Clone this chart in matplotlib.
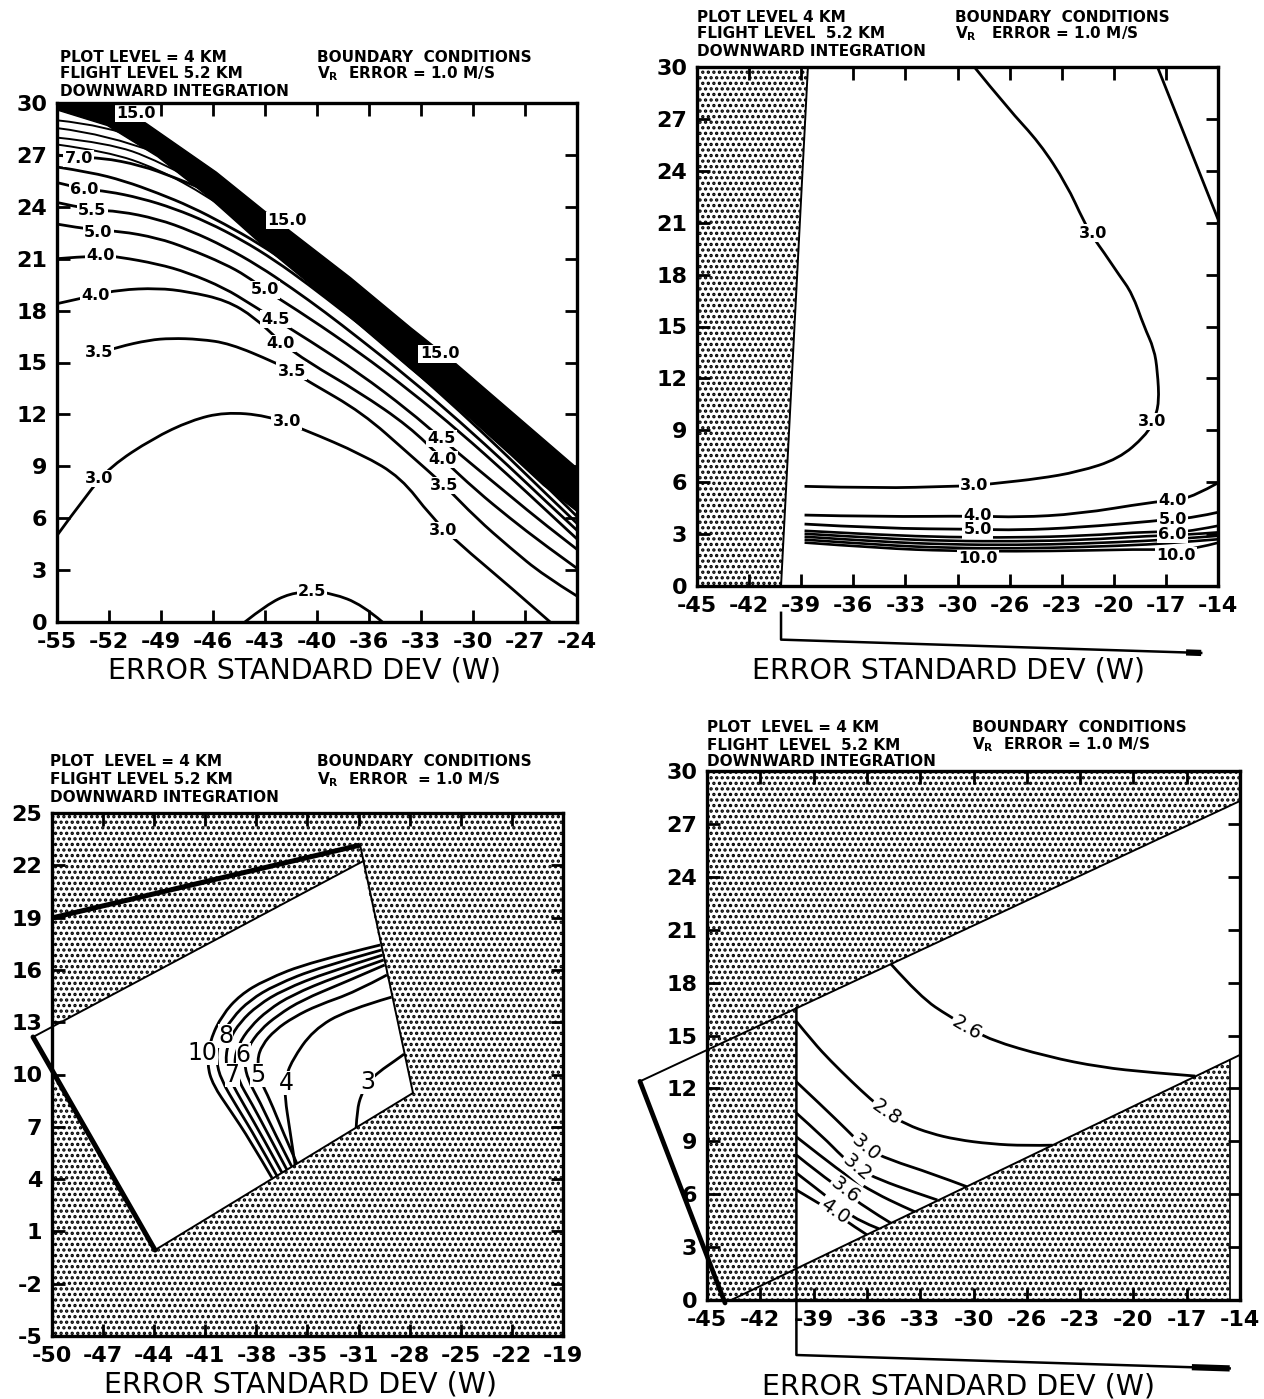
import numpy as np
import matplotlib
matplotlib.use("Agg")
import matplotlib.pyplot as plt
from matplotlib.patches import Polygon, Rectangle, PathPatch
from matplotlib.path import Path

plt.rcParams['font.family'] = ['DejaVu Sans']
plt.rcParams['axes.unicode_minus'] = False
plt.rcParams['hatch.linewidth'] = 1.6
plt.rcParams['hatch.color'] = 'black'
plt.rcParams['mathtext.fontset'] = 'dejavusans'

W, H = 1264, 1399

# ---------------- axis ranges and tick labels ----------------
p1_xlim, p1_ylim = (-55, -24), (0, 30)
p1_xticklabels = ['-55', '-52', '-49', '-46', '-43', '-40', '-36', '-33', '-30', '-27', '-24']
p1_yticklabels = ['0', '3', '6', '9', '12', '15', '18', '21', '24', '27', '30']

p2_xlim, p2_ylim = (-45, -14), (0, 30)
p2_xticklabels = ['-45', '-42', '-39', '-36', '-33', '-30', '-26', '-23', '-20', '-17', '-14']
p2_yticklabels = ['0', '3', '6', '9', '12', '15', '18', '21', '24', '27', '30']

p3_xlim, p3_ylim = (-50, -19), (-5, 25)
p3_xticklabels = ['-50', '-47', '-44', '-41', '-38', '-35', '-31', '-28', '-25', '-22', '-19']
p3_yticklabels = ['-5', '-2', '1', '4', '7', '10', '13', '16', '19', '22', '25']

p4_xlim, p4_ylim = (-45, -14), (0, 30)
p4_xticklabels = ['-45', '-42', '-39', '-36', '-33', '-30', '-26', '-23', '-20', '-17', '-14']
p4_yticklabels = ['0', '3', '6', '9', '12', '15', '18', '21', '24', '27', '30']

# ---------------- panel 1 (top left) contours ----------------
p1_line_x = [
    [-43.8, -42.5, -41.1, -39.8, -38.6, -36.8, -35.6],                                   # 2.5
    [-55, -53.2, -51.8, -49.3, -47.0, -45.0, -42.5, -40.2, -36.8, -34.5, -32.7, -31.1, -28.1, -25.6],  # 3.0
    [-52.5, -51.35, -49.5, -48.2, -46.5, -44.7, -42.0, -41.0, -40.0, -36.8, -34.0, -31.9, -30.0, -28.0, -26.0, -24.0],  # 3.5
    [-55, -52.7, -51.3, -49, -47.2, -44.9, -43.2, -41.7, -40, -37, -34, -32.0, -30, -28, -26, -24],  # 4.0
    [-55, -52.4, -51.3, -49, -47.2, -45, -43.5, -42.0, -40, -37, -34, -32.1, -30, -28, -26, -24],    # 4.5
    [-55, -52.55, -51.3, -49, -47.2, -45, -43.7, -42.6, -40, -37, -34, -31, -28, -26, -24],          # 5.0
    [-55, -52.9, -51.3, -49, -47, -45, -43, -41, -39, -37, -34, -31, -28, -26, -24],                  # 5.5
    [-55, -53.35, -52, -50, -48, -46, -44, -42, -40, -38, -36, -34, -31, -28, -26, -24],             # 6.0
    [-55, -53, -51, -49, -47, -45, -43, -41, -39, -37, -35, -33, -31, -28, -26, -24],                # 6.5
    [-55, -53.7, -52.4, -50, -48, -46, -44, -42, -40, -38, -36, -34, -31, -28, -26, -24],            # 7.0
    [-55, -52, -49, -46, -43, -41],                                                                   # 8
    [-55, -52, -49, -46],                                                                             # 9
    [-55, -52, -49],                                                                                  # 10
    [-55, -52, -50],                                                                                  # 12
]
p1_line_y = [
    [0, 1.0, 1.66, 1.75, 1.66, 1.0, 0],
    [5.0, 7.4, 9.0, 10.6, 11.66, 12.13, 11.94, 11.1, 9.68, 8.36, 6.1, 4.58, 2.13, 0.0],
    [15.55, 15.9, 16.3, 16.4, 16.35, 16.1, 15.0, 14.5, 13.9, 12.1, 9.7, 7.9, 6.0, 4.3, 2.7, 1.5],
    [18.4, 18.9, 19.2, 19.3, 19.1, 18.6, 17.6, 16.2, 15.0, 13.3, 11.3, 9.4, 7.6, 6.0, 4.5, 3.1],
    [21.0, 21.2, 21.1, 20.7, 20.2, 19.3, 18.4, 17.5, 16.3, 14.4, 12.2, 10.6, 8.9, 7.3, 5.7, 4.2],
    [23.0, 22.6, 22.6, 22.2, 21.6, 20.7, 20.0, 19.2, 17.6, 15.6, 13.4, 11.0, 8.4, 6.6, 4.8],
    [24.25, 23.8, 23.75, 23.3, 22.6, 21.7, 20.6, 19.3, 17.9, 16.4, 14.1, 11.6, 8.95, 7.1, 5.3],
    [25.4, 25.0, 24.9, 24.5, 23.9, 23.1, 22.1, 20.9, 19.5, 18.0, 16.5, 14.8, 12.2, 9.45, 7.55, 5.7],
    [26.3, 26.0, 25.5, 24.8, 24.0, 23.0, 21.9, 20.6, 19.2, 17.7, 16.1, 14.5, 12.8, 9.95, 8.0, 6.1],
    [27.0, 26.8, 26.85, 26.4, 25.7, 24.9, 23.9, 22.7, 21.3, 19.8, 18.2, 16.5, 13.4, 10.45, 8.45, 6.5],
    [27.6, 27.2, 26.2, 24.6, 22.6, 21.3],
    [28.0, 27.7, 26.7, 25.1],
    [28.55, 28.2, 27.1],
    [29.0, 28.7, 27.9],
]
# dense band of high-value contours (merged to solid black)
p1_band_top_x = [-55, -51.6, -49.65, -45.5, -42.3, -37.5, -33.9, -31.3, -24]
p1_band_top_y = [30, 30, 28.8, 26.0, 23.5, 19.9, 17.0, 15.0, 8.9]
p1_band_bot_x = [-55, -52, -49, -46, -43, -40, -37.5, -34, -31, -28, -26, -24]
p1_band_bot_y = [29.6, 28.7, 26.9, 24.6, 22.0, 19.6, 17.6, 14.7, 12.3, 9.7, 7.9, 6.4]

p1_lab_text = ['15.0', '7.0', '6.0', '5.5', '5.0', '4.0', '4.0', '3.5', '3.0',
               '15.0', '5.0', '4.5', '4.0', '3.5', '3.0', '2.5',
               '15.0', '4.5', '4.0', '3.5', '3.0']
p1_lab_x = [-50.3, -53.7, -53.35, -52.9, -52.55, -52.4, -52.7, -52.5, -52.5,
            -41.3, -42.6, -42.0, -41.7, -41.0, -41.3, -39.8,
            -32.2, -32.1, -32.0, -31.9, -32.0]
p1_lab_y = [29.4, 26.8, 25.0, 23.8, 22.5, 21.2, 18.9, 15.55, 8.3,
            23.2, 19.2, 17.5, 16.1, 14.5, 11.6, 1.75,
            15.5, 10.6, 9.4, 7.9, 5.3]

# ---------------- panel 2 (top right) ----------------
p2_stipple_x = [-45, -45, -38.4, -40.0]
p2_stipple_y = [0, 30, 30, 0]
p2_line_x = [
    [-28.5, -26.5, -24.6, -23, -22, -21.4, -20.8, -19.9, -19.1, -18.4, -17.8, -17.6, -17.5, -17.8,
     -18.3, -19.9, -22.3, -24.7, -27, -28.5, -30, -34, -38.6],               # 3.0
    [-17.6, -14.0],                                                          # unlabeled
    [-38.6, -34.1, -28.3, -25.9, -22.3, -18.0, -16.6, -15.4, -14.0],         # 4.0
    [-38.6, -34.1, -28.3, -25.9, -22.3, -17.6, -16.5, -15.4, -14.0],         # 5.0
    [-38.6, -34, -30, -26, -22, -18, -16.5, -15.2, -14],                     # 6.0
    [-38.6, -34, -30, -26, -22, -18, -16, -14],                              # 7.0
    [-38.6, -34, -30, -26, -22, -18, -16, -14],                              # 8.0
    [-38.6, -34, -30, -26, -22, -18, -16, -14],                              # 9.0
    [-38.6, -34, -30, -26, -22, -18, -16.5, -15.2, -14],                     # 10.0
]
p2_line_y = [
    [30, 27.6, 25.6, 23.2, 21.1, 20.1, 19.3, 18.0, 16.9, 15.0, 13.7, 12.4, 10.6, 9.6,
     8.7, 7.35, 6.6, 6.2, 5.96, 5.8, 5.76, 5.65, 5.76],
    [30, 21.2],
    [4.1, 4.0, 4.05, 3.97, 4.16, 4.84, 4.95, 5.2, 5.96],
    [3.58, 3.33, 3.28, 3.23, 3.38, 3.77, 3.9, 3.96, 4.26],
    [3.19, 2.95, 2.82, 2.8, 2.9, 3.15, 3.1, 3.25, 3.48],
    [3.02, 2.75, 2.6, 2.58, 2.66, 2.9, 2.95, 3.1],
    [2.85, 2.55, 2.4, 2.37, 2.45, 2.62, 2.75, 2.9],
    [2.68, 2.36, 2.2, 2.17, 2.25, 2.4, 2.55, 2.7],
    [2.51, 2.18, 2.03, 2.0, 2.05, 2.13, 2.05, 2.2, 2.5],
]
p2_line_w = [2.0, 2.0, 2.0, 2.0, 1.9, 1.9, 1.9, 1.9, 1.9]
p2_lab_text = ['3.0', '3.0', '3.0', '4.0', '5.0', '10.0', '4.0', '5.0', '6.0', '10.0']
p2_lab_x = [-21.44, -17.9, -28.5, -28.3, -28.3, -28.3, -16.7, -16.7, -16.7, -16.5]
p2_lab_y = [20.4, 9.5, 5.8, 4.05, 3.25, 1.6, 4.95, 3.85, 3.0, 1.75]
p2_bracket_x = [-40.0, -40.0, -15.0]
p2_bracket_y = [-1.55, -3.1, -3.87]
p2_bracket_end_x = [-15.9, -15.0]
p2_bracket_end_y = [-3.84, -3.87]

# ---------------- panel 3 (bottom left) ----------------
p3_white_x = [-51.15, -31.2, -28.1, -43.75]
p3_white_y = [12.15, 22.2, 8.94, -0.07]
p3_thick_top_x = [-50.0, -31.31]
p3_thick_top_y = [18.98, 23.16]
p3_right_edge_x = [-31.31, -28.1]
p3_right_edge_y = [23.16, 8.94]
p3_thick_left_x = [-51.15, -43.75]
p3_thick_left_y = [12.15, -0.07]
p3_arc_x = [
    [-36.65, -37.99, -39.20, -40.23, -40.59, -40.41, -39.68, -38.59, -37.08, -34.34, -30.08],   # 10
    [-36.35, -37.62, -38.77, -39.74, -40.05, -39.87, -39.08, -37.99, -36.47, -33.74, -30.02],   # 9
    [-36.04, -37.26, -38.35, -39.20, -39.50, -39.26, -38.59, -37.50, -35.98, -33.25, -29.95],   # 8
    [-35.74, -36.89, -37.86, -38.71, -38.96, -38.71, -37.99, -36.89, -35.44, -32.83, -29.88],   # 7
    [-35.44, -36.53, -37.38, -38.11, -38.35, -38.11, -37.38, -36.29, -34.83, -32.34, -29.82],   # 6
    [-35.13, -36.04, -36.77, -37.38, -37.56, -37.26, -36.47, -35.32, -33.86, -31.61, -29.68],   # 5
    [-35.25, -35.6, -35.86, -35.86, -35.45, -34.16, -32.1, -29.4],                               # 4
    [-31.55, -31.49, -31.25, -30.83, -30.10, -29.31, -28.64],                                    # 3
]
p3_arc_y = [
    [4.06, 6.24, 7.96, 9.39, 10.54, 11.98, 13.41, 14.56, 15.42, 16.45, 17.43],
    [4.18, 6.35, 8.13, 9.68, 10.83, 11.98, 13.24, 14.27, 15.13, 16.16, 17.14],
    [4.35, 6.47, 8.25, 9.68, 10.83, 11.98, 13.01, 13.98, 14.85, 15.88, 16.85],
    [4.52, 6.58, 8.30, 9.68, 10.71, 11.69, 12.72, 13.70, 14.56, 15.59, 16.57],
    [4.69, 6.70, 8.42, 9.68, 10.71, 11.57, 12.55, 13.41, 14.27, 15.25, 16.28],
    [4.86, 6.81, 8.53, 9.68, 10.83, 11.69, 12.55, 13.30, 13.98, 14.73, 15.71],
    [4.8, 7.0, 8.6, 9.7, 10.8, 12.55, 13.7, 14.44],
    [6.93, 7.96, 8.82, 9.57, 10.20, 10.71, 11.17],
]
p3_lab_text = ['3', '4', '5', '6', '7', '8', '10']
p3_lab_x = [-30.83, -35.80, -37.50, -38.40, -39.08, -39.45, -40.85]
p3_lab_y = [9.57, 9.51, 9.97, 11.12, 9.97, 12.2, 11.23]

# ---------------- panel 4 (bottom right) ----------------
p4_top_edge_x = [-48.9, -14.0]
p4_top_edge_y = [12.4, 28.3]
p4_bot_edge_x = [-43.95, -14.0]
p4_bot_edge_y = [-0.17, 13.9]
p4_strip_x = -39.8
p4_right_gap_x = -14.58
p4_line_x = [
    [-34.3, -32.6, -30.86, -29.8, -28.54, -25.2, -22.1, -19.2, -16.6],                        # 2.6
    [-39.8, -38.8, -37.85, -36.6, -35.5, -34.5, -33.4, -32, -30.5, -28.5, -26.5, -24.9],      # 2.8
    [-39.8, -38.25, -36.86, -35.8, -34.35, -32.0, -29.9],                                      # 3.0
    [-39.8, -38.25, -37.1, -36.3, -34.9, -33.0, -31.6],                                        # 3.2
    [-39.8, -38.3, -36.8, -35.2, -33.6, -32.9],                                                # 3.4
    [-39.8, -38.5, -37.0, -35.8, -34.3],                                                       # 3.6
    [-39.8, -38.6, -37.3, -36.2, -35.0],                                                       # 3.8
    [-39.8, -38.7, -37.5, -36.5, -35.7],                                                       # 4.0
]
p4_line_y = [
    [19.05, 17.19, 16.05, 15.5, 14.75, 13.8, 13.2, 12.9, 12.7],
    [15.8, 14.6, 13.6, 12.4, 11.4, 10.6, 9.95, 9.45, 9.1, 8.85, 8.75, 8.78],
    [12.37, 10.95, 9.64, 8.6, 7.94, 7.2, 6.43],
    [10.6, 9.25, 8.1, 7.45, 6.8, 6.13, 5.67],
    [9.25, 8.1, 7.0, 6.05, 5.3, 5.0],
    [8.22, 7.2, 6.15, 5.25, 4.36],
    [7.2, 6.3, 5.3, 4.5, 4.04],
    [6.24, 5.6, 4.9, 4.2, 3.7],
]
p4_lab_text = ['2.6', '2.8', '3.0', '3.2', '3.6', '4.0']
p4_lab_x = [-29.9, -34.55, -35.75, -36.3, -36.95, -37.55]
p4_lab_y = [15.4, 10.65, 8.65, 7.5, 6.2, 5.05]
p4_lab_rot = [-30, -35, -40, -40, -38, -35]
p4_bracket_x = [-39.8, -39.8, -14.6]
p4_bracket_y = [16.55, -3.12, -3.88]
p4_bracket_end_x = [-16.8, -14.6]
p4_bracket_end_y = [-3.81, -3.88]

# ---------------- header texts ----------------
hdr_left = [
    ['PLOT LEVEL = 4 KM', 'FLIGHT LEVEL 5.2 KM', 'DOWNWARD INTEGRATION'],
    ['PLOT LEVEL 4 KM', 'FLIGHT LEVEL  5.2 KM', 'DOWNWARD INTEGRATION'],
    ['PLOT  LEVEL = 4 KM', 'FLIGHT LEVEL 5.2 KM', 'DOWNWARD INTEGRATION'],
    ['PLOT  LEVEL = 4 KM', 'FLIGHT  LEVEL  5.2 KM', 'DOWNWARD INTEGRATION'],
]
hdr_right = [
    ['BOUNDARY  CONDITIONS', r'V$_\mathbf{R}$  ERROR = 1.0 M/S'],
    ['BOUNDARY  CONDITIONS', r'V$_\mathbf{R}$   ERROR = 1.0 M/S'],
    ['BOUNDARY  CONDITIONS', r'V$_\mathbf{R}$  ERROR  = 1.0 M/S'],
    ['BOUNDARY  CONDITIONS', r'V$_\mathbf{R}$  ERROR = 1.0 M/S'],
]
xlabel_text = 'ERROR STANDARD DEV (W)'

# ====================================================================
fig = plt.figure(figsize=(W / 100, H / 100), dpi=100)


def px_axes(l, t, r, b):
    return fig.add_axes([l / W, 1 - b / H, (r - l) / W, (b - t) / H])


def setup(ax, xlim, ylim, xl, yl):
    ax.set_xlim(*xlim)
    ax.set_ylim(*ylim)
    ax.set_xticks(np.linspace(xlim[0], xlim[1], len(xl)))
    ax.set_xticklabels(xl)
    ax.set_yticks(np.linspace(ylim[0], ylim[1], len(yl)))
    ax.set_yticklabels(yl)
    ax.tick_params(direction='in', length=9, width=2.0, top=True, right=True,
                   labelsize=16, pad=7)
    for lab in ax.get_xticklabels() + ax.get_yticklabels():
        lab.set_fontweight('bold')
    for s in ax.spines.values():
        s.set_linewidth(2.4)
        s.set_zorder(6)
    ax.set_axisbelow(False)


def curve(ax, xs, ys, lw=2.0, **kw):
    """Smooth drawn contour: quadratic Bezier path through the read points."""
    pts = np.column_stack([xs, ys]).astype(float)
    if len(pts) < 3:
        verts, codes = pts, [Path.MOVETO, Path.LINETO]
    else:
        verts, codes = [pts[0]], [Path.MOVETO]
        for i in range(1, len(pts) - 1):
            end = pts[-1] if i == len(pts) - 2 else (pts[i] + pts[i + 1]) / 2
            verts += [pts[i], end]
            codes += [Path.CURVE3, Path.CURVE3]
    ax.add_patch(PathPatch(Path(verts, codes), fill=False, ec='black', lw=lw,
                           capstyle='butt', joinstyle='round', zorder=3, **kw))


def clabel(ax, x, y, s, size, weight='bold', rot=0, pad=0.08):
    ax.text(x, y, s, ha='center', va='center', fontsize=size, fontweight=weight,
            rotation=rot, zorder=5,
            bbox=dict(boxstyle='square,pad=%g' % pad, fc='white', ec='none'))


def fig_text(xp, yp, s, **kw):
    fig.text(xp / W, 1 - yp / H, s, **kw)


# ---------- panel 1 ----------
ax1 = px_axes(57, 103, 577, 622)
setup(ax1, p1_xlim, p1_ylim, p1_xticklabels, p1_yticklabels)
band_x = p1_band_top_x + p1_band_bot_x[::-1]
band_y = p1_band_top_y + p1_band_bot_y[::-1]
ax1.add_patch(Polygon(np.column_stack([band_x, band_y]), closed=True,
                      fc='black', ec='black', lw=1.0, joinstyle='round', zorder=3))
for i, (xs, ys) in enumerate(zip(p1_line_x, p1_line_y)):
    curve(ax1, xs, ys, lw=2.0 if i < 10 else 1.4)
for s, x, y in zip(p1_lab_text, p1_lab_x, p1_lab_y):
    clabel(ax1, x, y, s, 11.5)

# ---------- panel 2 ----------
ax2 = px_axes(697, 67, 1218, 586)
setup(ax2, p2_xlim, p2_ylim, p2_xticklabels, p2_yticklabels)
ax2.add_patch(Polygon(np.column_stack([p2_stipple_x, p2_stipple_y]), closed=True,
                      fc='white', ec='black', hatch='...', lw=0, zorder=1))
ax2.plot(p2_stipple_x[2:], p2_stipple_y[2:], color='black', lw=1.4, zorder=2)
for xs, ys, lw in zip(p2_line_x, p2_line_y, p2_line_w):
    curve(ax2, xs, ys, lw=lw)
for s, x, y in zip(p2_lab_text, p2_lab_x, p2_lab_y):
    clabel(ax2, x, y, s, 11.5)
ax2.plot(p2_bracket_x, p2_bracket_y, color='black', lw=1.8, clip_on=False)
ax2.plot(p2_bracket_end_x, p2_bracket_end_y, color='black', lw=4.5, clip_on=False,
         solid_capstyle='butt')

# ---------- panel 3 ----------
ax3 = px_axes(52, 813, 563, 1336)
setup(ax3, p3_xlim, p3_ylim, p3_xticklabels, p3_yticklabels)
ax3.add_patch(Rectangle((p3_xlim[0], p3_ylim[0]), p3_xlim[1] - p3_xlim[0],
                        p3_ylim[1] - p3_ylim[0], fc='white', ec='black',
                        hatch='...', lw=0, zorder=1))
ax3.add_patch(Polygon(np.column_stack([p3_white_x, p3_white_y]), closed=True,
                      fc='white', ec='none', zorder=1.5))
wx = p3_white_x + [p3_white_x[0]]
wy = p3_white_y + [p3_white_y[0]]
ax3.plot(wx[0:2], wy[0:2], color='black', lw=1.4, zorder=3, clip_on=False)
ax3.plot(wx[2:4], wy[2:4], color='black', lw=1.4, zorder=3, clip_on=False)
ax3.plot(p3_right_edge_x, p3_right_edge_y, color='black', lw=1.4, zorder=3)
ax3.plot(p3_thick_top_x, p3_thick_top_y, color='black', lw=3.6, zorder=3,
         solid_capstyle='butt')
ax3.plot(p3_thick_left_x, p3_thick_left_y, color='black', lw=3.6, zorder=3,
         clip_on=False, solid_capstyle='round')
for xs, ys in zip(p3_arc_x, p3_arc_y):
    curve(ax3, xs, ys, lw=2.0)
for s, x, y in zip(p3_lab_text, p3_lab_x, p3_lab_y):
    clabel(ax3, x, y, s, 17, weight='normal', pad=0.0)

# ---------- panel 4 ----------
ax4 = px_axes(707, 771, 1240, 1300)
setup(ax4, p4_xlim, p4_ylim, p4_xticklabels, p4_yticklabels)
ax4.add_patch(Rectangle((p4_xlim[0], p4_ylim[0]), p4_xlim[1] - p4_xlim[0],
                        p4_ylim[1] - p4_ylim[0], fc='white', ec='black',
                        hatch='...', lw=0, zorder=1))
top_at = lambda x: np.interp(x, p4_top_edge_x, p4_top_edge_y)
bot_at = lambda x: np.interp(x, p4_bot_edge_x, p4_bot_edge_y)
white4 = [(p4_strip_x, bot_at(p4_strip_x)), (p4_strip_x, top_at(p4_strip_x)),
          (p4_xlim[1], top_at(p4_xlim[1])), (p4_xlim[1], 0),
          (p4_right_gap_x, 0), (p4_right_gap_x, bot_at(p4_right_gap_x))]
ax4.add_patch(Polygon(white4, closed=True, fc='white', ec='none', zorder=1.5))
ax4.plot(p4_top_edge_x, p4_top_edge_y, color='black', lw=1.4, zorder=3, clip_on=False)
ax4.plot(p4_bot_edge_x, p4_bot_edge_y, color='black', lw=1.4, zorder=3)
ax4.plot([p4_top_edge_x[0], p4_bot_edge_x[0]], [p4_top_edge_y[0], p4_bot_edge_y[0]],
         color='black', lw=3.4, zorder=3, clip_on=False, solid_capstyle='round')
ax4.plot([p4_right_gap_x, p4_right_gap_x], [0, bot_at(p4_right_gap_x)], color='black',
         lw=1.2, zorder=3)
p4_bx = list(p4_bracket_x)
p4_by = list(p4_bracket_y)
p4_by[0] = top_at(p4_strip_x)
ax4.plot(p4_bx, p4_by, color='black', lw=1.8, zorder=3, clip_on=False)
ax4.plot(p4_bracket_end_x, p4_bracket_end_y, color='black', lw=4.5, clip_on=False,
         solid_capstyle='butt')
for xs, ys in zip(p4_line_x, p4_line_y):
    curve(ax4, xs, ys, lw=2.0)
for s, x, y, r in zip(p4_lab_text, p4_lab_x, p4_lab_y, p4_lab_rot):
    clabel(ax4, x, y, s, 14, weight='normal', rot=r)

# ---------- header texts and axis titles ----------
hdr_pos = [
    (60, [57, 74, 91], 317),
    (697, [17, 34, 51], 955),
    (50, [762, 780, 798], 317),
    (707, [727, 745, 762], 972),
]
for (xl, ys, xr), left, right in zip(hdr_pos, hdr_left, hdr_right):
    for y, s in zip(ys, left):
        fig_text(xl, y, s, ha='left', va='center', fontsize=11, fontweight='bold')
    for y, s in zip(ys[:2], right):
        fig_text(xr, y, s, ha='left', va='center', fontsize=11, fontweight='bold')

for xc, yc in [(305, 671), (948, 671), (300, 1385), (958, 1387)]:
    fig_text(xc, yc, xlabel_text, ha='center', va='center', fontsize=20.5)

fig.savefig('out.png', dpi=100)
